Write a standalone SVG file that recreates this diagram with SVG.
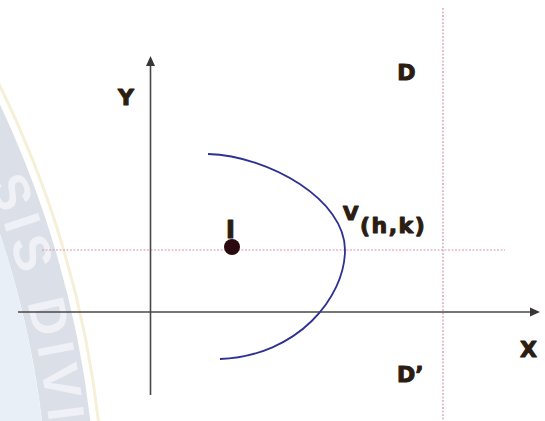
<svg xmlns="http://www.w3.org/2000/svg" width="545" height="421" viewBox="0 0 545 421">
  <defs>
    <style>
      .lbl { font-family: "DejaVu Sans", Verdana, sans-serif; font-weight: bold; fill: #2b1d12; stroke: #2b1d12; stroke-width: 1.1; stroke-linejoin: round; }
      .axis { stroke: #4a4646; stroke-width: 1.6; fill: none; }
      .guide { stroke: #d49aa8; stroke-width: 1.2; stroke-dasharray: 2 1.5; fill: none; }
      .wm { font-family: "Liberation Sans", Arial, sans-serif; font-weight: bold; font-size: 52px; fill: #eff1f6; letter-spacing: 7px; }
    </style>
    <path id="wmArc" d="M -74.65 50.5 A 975 975 0 0 1 56 538"/>
  </defs>
  <rect width="545" height="421" fill="#ffffff"/>
  <!-- faint watermark seal -->
  <g id="watermark">
    <circle cx="-919" cy="538" r="1024" fill="none" stroke="#f6f0d8" stroke-width="3"/>
    <circle cx="-919" cy="538" r="992" fill="none" stroke="#dbdfe8" stroke-width="48"/>
    <circle cx="-919" cy="538" r="968" fill="#e8eff7"/>
    <text class="wm"><textPath href="#wmArc" startOffset="146">SIS DIVI</textPath></text>
  </g>
  <g id="guides">
    <line class="guide" x1="42" y1="250" x2="505" y2="250"/>
    <line class="guide" x1="443" y1="8" x2="443" y2="421"/>
  </g>
  <g id="axes">
    <line class="axis" x1="18" y1="312" x2="532" y2="312"/>
    <polygon points="540,312 530,307.5 530,316.5" fill="#3a3636"/>
    <line class="axis" x1="150.5" y1="395" x2="150.5" y2="65"/>
    <polygon points="150.5,56 146,66 155,66" fill="#3a3636"/>
  </g>
  <g id="parabola">
    <path d="M 208 154 C 270 156 345 200 345 250 C 345 297 298 356 220 359" fill="none" stroke="#2e3190" stroke-width="1.8"/>
  </g>
  <g id="focus">
    <circle cx="232" cy="247" r="8" fill="#2a0a10"/>
    <text class="lbl" x="230.5" y="238" font-size="24" text-anchor="middle">I</text>
  </g>
  <g id="labels">
    <text class="lbl" x="126" y="105" font-size="22" text-anchor="middle">Y</text>
    <text class="lbl" x="406.5" y="80" font-size="22" text-anchor="middle">D</text>
    <text class="lbl" x="528.5" y="357" font-size="22" text-anchor="middle">X</text>
    <text class="lbl" x="397" y="382" font-size="22">D’</text>
    <text class="lbl" x="343" y="220" font-size="20">V</text>
    <text class="lbl" x="360" y="233" font-size="22" letter-spacing="1.5">(h,k)</text>
  </g>
</svg>
